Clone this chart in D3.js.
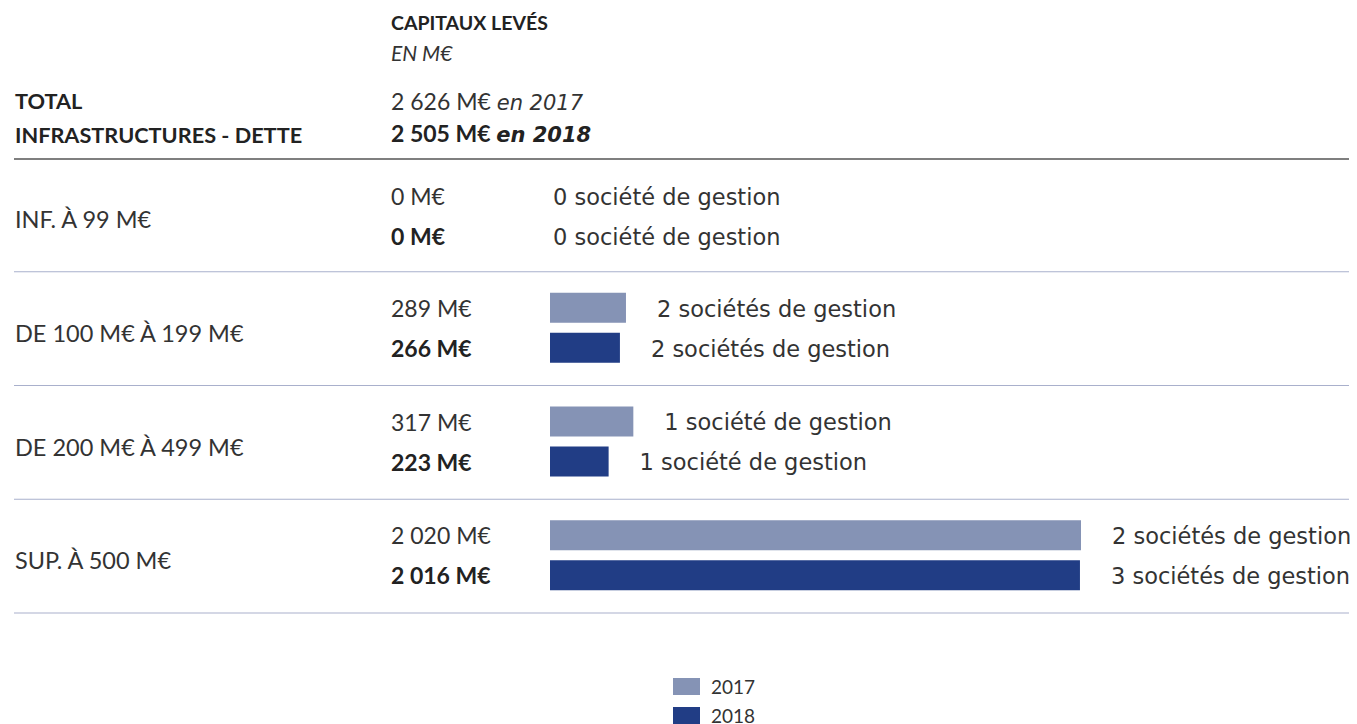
<!DOCTYPE html>
<html>
<head>
<meta charset="utf-8">
<script src="https://cdn.jsdelivr.net/npm/d3@7.9.0/dist/d3.min.js"></script>
<style>
  body { margin: 0; background: #fff; }
  svg { display: block; }
  text { fill: #333; font-family: Lato, sans-serif; }
  .soc, .wide { font-family: "DejaVu Sans", sans-serif; }
  .b { fill: #222; }
</style>
</head>
<body>
<svg id="chart" width="1357" height="724"></svg>
<script>
// Données
const categories = ['INF. À 99 M€', 'DE 100 M€ À 199 M€', 'DE 200 M€ À 499 M€', 'SUP. À 500 M€'];
const years = ['2017', '2018'];
const values2017 = [0, 289, 317, 2020];
const values2018 = [0, 266, 223, 2016];
const societes2017 = [0, 2, 1, 2];
const societes2018 = [0, 2, 1, 3];
const totals = [2626, 2505];

const colors = d3.scaleOrdinal().domain(years).range(['#8593b5', '#213d85']);
const fr = d3.formatLocale({ decimal: ',', thousands: ' ', grouping: [3], currency: ['', ' €'] });
const fmt = fr.format(',d');
const socLabel = n => `${n} ${n > 1 ? 'sociétés' : 'société'} de gestion`;

const svg = d3.select('#chart');

// --- en-tête ---
svg.append('text').attr('class', 'b').attr('x', 391).attr('y', 30)
  .attr('font-size', 19.5).attr('font-weight', 'bold').text('CAPITAUX LEVÉS');
svg.append('text').attr('x', 391).attr('y', 61)
  .attr('font-size', 21).attr('font-style', 'italic').text('EN M€');

svg.append('text').attr('class', 'b').attr('x', 15).attr('y', 109)
  .attr('font-size', 21.7).attr('font-weight', 'bold').text('TOTAL');
svg.append('text').attr('class', 'b').attr('x', 15).attr('y', 143)
  .attr('font-size', 21.7).attr('font-weight', 'bold').text('INFRASTRUCTURES - DETTE');

totals.forEach((t, i) => {
  const txt = svg.append('text').attr('class', i === 1 ? 'b' : null)
    .attr('x', 391).attr('y', 110 + i * 32)
    .attr('font-size', 23).attr('font-weight', i === 1 ? 'bold' : 'normal');
  txt.append('tspan').text(`${fmt(t)} M€ `);
  txt.append('tspan').attr('class', 'wide').attr('font-size', 21)
    .attr('font-style', 'italic').text(`en ${years[i]}`);
});

svg.append('line').attr('x1', 14).attr('x2', 1349).attr('y1', 159).attr('y2', 159)
  .attr('stroke', '#555').attr('stroke-width', 1.3);

// --- échelles ---
const x = d3.scaleLinear().domain([0, 2020]).range([550, 1081]);
const y = d3.scaleBand().domain(categories).range([158, 613]);
const yInner = d3.scaleBand().domain(years).range([21, 91]).paddingInner(0.25);

const rows = categories.map((c, i) => ({
  cat: c,
  items: [
    { year: '2017', value: values2017[i], soc: societes2017[i] },
    { year: '2018', value: values2018[i], soc: societes2018[i] }
  ]
}));

const row = svg.selectAll('g.row').data(rows).enter().append('g')
  .attr('class', 'row')
  .attr('transform', d => `translate(0,${y(d.cat)})`);

row.append('text')
  .attr('x', 15).attr('y', y.bandwidth() / 2 + 5).attr('dy', '0.35em')
  .attr('font-size', 23.5).text(d => d.cat);

row.append('line')
  .attr('x1', 14).attr('x2', 1349)
  .attr('y1', y.bandwidth()).attr('y2', y.bandwidth())
  .attr('stroke', '#a9b0cc').attr('stroke-width', 1.2);

const item = row.selectAll('g.item').data(d => d.items).enter().append('g')
  .attr('class', 'item')
  .attr('transform', d => `translate(0,${yInner(d.year)})`);

item.append('rect')
  .attr('x', x(0))
  .attr('width', d => x(d.value) - x(0))
  .attr('height', yInner.bandwidth())
  .attr('fill', d => colors(d.year));

// la première ligne n'a pas de barre : textes un peu plus bas
const textY = (d) => yInner.bandwidth() / 2 + (d.value === 0 ? 3 : 1);

item.append('text')
  .attr('class', d => d.year === '2018' ? 'b' : null)
  .attr('x', 391).attr('y', textY).attr('dy', '0.35em')
  .attr('font-size', 23)
  .attr('font-weight', d => d.year === '2018' ? 'bold' : 'normal')
  .text(d => `${fmt(d.value)} M€`);

item.append('text')
  .attr('class', 'soc')
  .attr('x', d => d.value > 0 ? x(d.value) + 31 : 553)
  .attr('y', textY).attr('dy', '0.35em')
  .attr('font-size', 22.5)
  .text(d => socLabel(d.soc));

// --- légende ---
const legend = svg.append('g').attr('transform', 'translate(673,678)');
const li = legend.selectAll('g').data(years).enter().append('g')
  .attr('transform', (d, i) => `translate(0,${i * 29})`);
li.append('rect').attr('width', 27).attr('height', 17).attr('fill', d => colors(d));
li.append('text').attr('x', 38).attr('y', 9).attr('dy', '0.35em')
  .attr('font-size', 19).text(d => d);
</script>
</body>
</html>
